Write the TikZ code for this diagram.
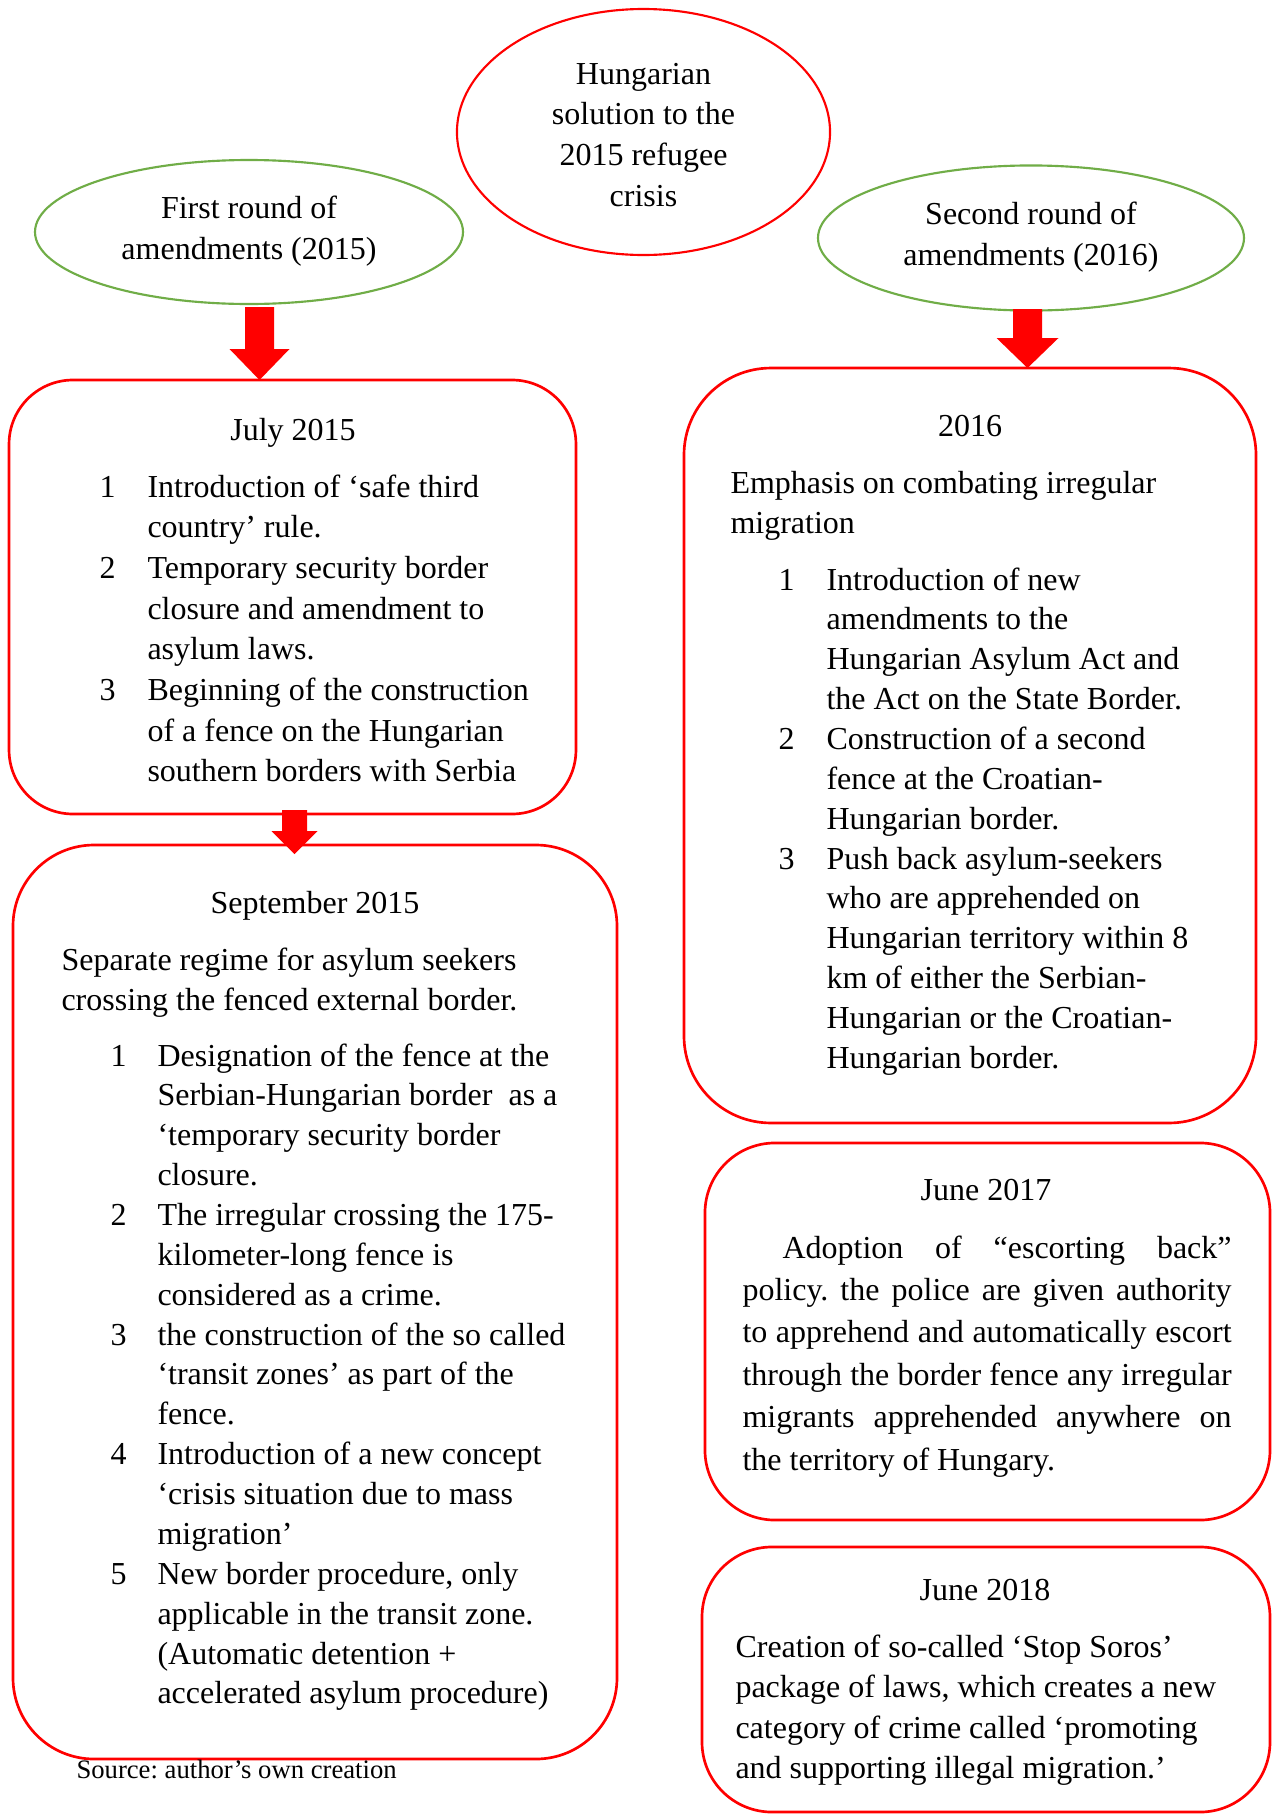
\documentclass[tikz,border=0pt]{standalone}
\usepackage{fontspec}
\setmainfont{Liberation Serif}
\usetikzlibrary{shapes.geometric}
\definecolor{ellgreen}{RGB}{112,173,71}
\definecolor{boxred}{RGB}{255,0,0}
\frenchspacing
\newcommand\barrow[6]{\fill[boxred] ({#1-#2},#4) -- ({#1+#2},#4) -- ({#1+#2},#5) -- ({#1+#3},#5) -- (#1,#6) -- ({#1-#3},#5) -- ({#1-#2},#5) -- cycle;}
\begin{document}
\begin{tikzpicture}[x=0.375pt,y=-0.375pt,
  rbox/.style={draw=boxred, line width=1pt, inner sep=0pt},
  gell/.style={ellipse, draw=ellgreen, line width=0.8pt, inner sep=0pt},
  rell/.style={ellipse, draw=boxred, line width=0.8pt, inner sep=0pt},
  lines/.style={inner sep=0pt, anchor=base west, text width=#1, align=flush left},
  clines/.style={inner sep=0pt, anchor=base, text width=#1, align=flush center},
  fnt/.style={font={\frenchspacing\fontsize{12}{#1}\selectfont}}]
\fill[white] (0,0) rectangle (1273,1814);
\path[use as bounding box] (0,0) rectangle (1273,1814);

% ellipses
\node[rell, minimum width=139.9pt, minimum height=92.25pt] (title) at (643.5,132) {};
\node[gell, minimum width=160.5pt, minimum height=54pt] (first) at (249,232) {};
\node[gell, minimum width=159.75pt, minimum height=54.4pt] (second) at (1031,238) {};
\node[clines=150pt, fnt=15.25pt] (titletxt) at (643.5,84) {Hungarian\\solution to the\\2015 refugee\\crisis};
\node[clines=170pt, fnt=15.5pt] (firsttxt) at (249,218) {First round of\\amendments (2015)};
\node[clines=170pt, fnt=15.5pt] (secondtxt) at (1031,224) {Second round of\\amendments (2016)};

% boxes
\node[rbox, rounded corners=24pt, minimum width=212.6pt, minimum height=162.75pt] (july) at (292.5,597) {};
\node[rbox, rounded corners=30.4pt, minimum width=226.5pt, minimum height=342.75pt] (sept) at (315,1302) {};
\node[rbox, rounded corners=32.6pt, minimum width=214.5pt, minimum height=283.1pt] (y2016) at (970,745.5) {};
\node[rbox, rounded corners=26.25pt, minimum width=211.9pt, minimum height=141.4pt] (june17) at (987.5,1331.5) {};
\node[rbox, rounded corners=26.25pt, minimum width=213pt, minimum height=99.4pt] (june18) at (986,1679.5) {};

% arrows
\barrow{259.5}{14.5}{30}{307}{349}{380}
\barrow{294.5}{12.5}{23}{810}{831}{854}
\barrow{1027.5}{14.5}{31}{309}{338}{368}

% July 2015
\node[clines=150pt, fnt=15.2pt] (julyhead) at (293,440) {July 2015};
\node[lines=20pt, fnt=15.25pt] (julynum) at (99,497) {1\\\mbox{}\\2\\\mbox{}\\\mbox{}\\3};
\node[lines=200pt, fnt=15.25pt] (julytxt) at (147,497) {Introduction of ‘safe third\\country’ rule.\\Temporary security border\\closure and amendment to\\asylum laws.\\Beginning of the construction\\of a fence on the Hungarian\\southern borders with Serbia};

% September 2015
\node[clines=150pt, fnt=15pt] (septhead) at (315,913) {September 2015};
\node[lines=210pt, fnt=15pt] (septintro) at (61,970) {Separate regime for asylum seekers\\crossing the fenced external border.};
\node[lines=20pt, fnt=14.95pt] (septnum) at (110,1066) {1\\\mbox{}\\\mbox{}\\\mbox{}\\2\\\mbox{}\\\mbox{}\\3\\\mbox{}\\\mbox{}\\4\\\mbox{}\\\mbox{}\\5};
\node[lines=200pt, fnt=14.95pt] (septtxt) at (157,1066) {Designation of the fence at the\\Serbian-Hungarian border\ \ as a\\‘temporary security border\\closure.\\The irregular crossing the 175-\\kilometer-long fence is\\considered as a crime.\\the construction of the so called\\‘transit zones’ as part of the\\fence.\\Introduction of a new concept\\‘crisis situation due to mass\\migration’\\New border procedure, only\\applicable in the transit zone.\\(Automatic detention +\\accelerated asylum procedure)};

% 2016
\node[clines=150pt, fnt=15pt] (y2016head) at (970,436) {2016};
\node[lines=210pt, fnt=15pt] (y2016intro) at (730,493) {Emphasis on combating irregular\\migration};
\node[lines=20pt, fnt=14.95pt] (y2016num) at (778,590) {1\\\mbox{}\\\mbox{}\\\mbox{}\\2\\\mbox{}\\\mbox{}\\3};
\node[lines=200pt, fnt=14.95pt] (y2016txt) at (826,590) {Introduction of new\\amendments to the\\Hungarian Asylum Act and\\the Act on the State Border.\\Construction of a second\\fence at the Croatian-\\Hungarian border.\\Push back asylum-seekers\\who are apprehended on\\Hungarian territory within 8\\km of either the Serbian-\\Hungarian or the Croatian-\\Hungarian border.};

% June 2017
\node[clines=150pt, fnt=15pt] (j17head) at (986,1200) {June 2017};
\node[inner sep=0pt, anchor=base west, text width=183.4pt, align=justify, fnt=15.9pt] (j17txt) at (742,1258) {\hspace*{15pt}Adoption of “escorting back”\linebreak policy. the police are given authority\linebreak to apprehend and automatically escort\linebreak through the border fence any irregular\linebreak migrants apprehended anywhere on\linebreak the territory of Hungary.};

% June 2018
\node[clines=150pt, fnt=15pt] (j18head) at (985,1600) {June 2018};
\node[lines=210pt, fnt=15.2pt] (j18txt) at (735,1657) {Creation of so-called ‘Stop Soros’\\package of laws, which creates a new\\category of crime called ‘promoting\\and supporting illegal migration.’};

% source
\node[inner sep=0pt, anchor=base west, font={\frenchspacing\fontsize{10}{12}\selectfont}] (source) at (76,1778) {Source: author’s own creation};
\end{tikzpicture}
\end{document}
